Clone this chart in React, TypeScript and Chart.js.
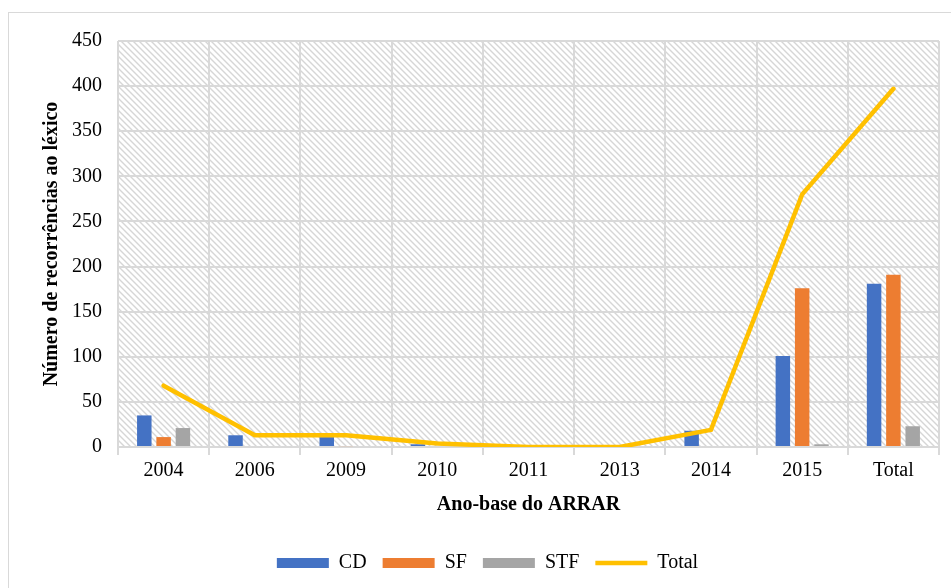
import React, { useEffect, useRef } from "react";
import { Chart, registerables } from "chart.js";

Chart.register(...registerables);

const categories = ["2004", "2006", "2009", "2010", "2011", "2013", "2014", "2015", "Total"];
const cdValues = [35, 13, 11, 3, 0, 0, 18, 101, 181];
const sfValues = [11, 0, 1, 0, 0, 0, 0, 176, 191];
const stfValues = [21, 0, 0, 0, 0, 0, 0, 3, 23];
const totalValues = [68, 13, 13, 4, 0, 0, 19, 280, 397];
const yTicks = [0, 50, 100, 150, 200, 250, 300, 350, 400, 450];

const FONT = "'Liberation Serif', 'Times New Roman', serif";

function makePattern(): CanvasPattern | string {
  const c = document.createElement("canvas");
  const s = 6;
  c.width = s;
  c.height = s;
  const g = c.getContext("2d");
  if (!g) return "#fff";
  g.fillStyle = "#ffffff";
  g.fillRect(0, 0, s, s);
  g.strokeStyle = "#d6d6d6";
  g.lineWidth = 1.4;
  g.beginPath();
  g.moveTo(-1, -1);
  g.lineTo(s + 1, s + 1);
  g.moveTo(-1, s - 1);
  g.lineTo(1, s + 1);
  g.moveTo(s - 1, -1);
  g.lineTo(s + 1, 1);
  g.stroke();
  const p = g.createPattern(c, "repeat");
  return p || "#fff";
}

export default function App() {
  const ref = useRef<HTMLCanvasElement | null>(null);
  useEffect(() => {
    if (!ref.current) return;
    const pattern = makePattern();
    const bgPlugin = {
      id: "hatch",
      beforeDraw(chart: any) {
        const { ctx, chartArea } = chart;
        if (!chartArea) return;
        ctx.save();
        ctx.fillStyle = pattern;
        ctx.fillRect(chartArea.left, chartArea.top, chartArea.right - chartArea.left, chartArea.bottom - chartArea.top);
        ctx.restore();
      },
    };
    const chart = new Chart(ref.current, {
      type: "bar",
      data: {
        labels: categories,
        datasets: [
          {
            type: "line",
            label: "Total",
            data: totalValues,
            borderColor: "#FFC000",
            backgroundColor: "#FFC000",
            borderWidth: 4.5,
            pointRadius: 0,
            pointStyle: "line",
            borderCapStyle: "round",
            tension: 0,
            order: 0,
          } as any,
          {
            label: "CD",
            data: cdValues,
            backgroundColor: "#4472C4",
            pointStyle: "rect",
            order: 1,
          },
          {
            label: "SF",
            data: sfValues,
            backgroundColor: "#ED7D31",
            pointStyle: "rect",
            order: 1,
          },
          {
            label: "STF",
            data: stfValues,
            backgroundColor: "#A5A5A5",
            pointStyle: "rect",
            order: 1,
          },
        ],
      },
      options: {
        animation: false,
        responsive: false,
        maintainAspectRatio: false,
        datasets: {
          bar: { barPercentage: 0.75, categoryPercentage: 0.635 },
        } as any,
        layout: { padding: { left: 27, right: 15, top: 21, bottom: 10 } },
        plugins: {
          tooltip: { enabled: false },
          legend: {
            position: "bottom",
            labels: {
              usePointStyle: true,
              pointStyleWidth: 52,
              boxHeight: 10,
              padding: 16,
              color: "#000",
              font: { family: FONT, size: 20 },
              sort: (a: any, b: any) => {
                const order = ["CD", "SF", "STF", "Total"];
                return order.indexOf(a.text) - order.indexOf(b.text);
              },
            },
          },
        },
        scales: {
          x: {
            offset: true,
            grid: { color: "#d9d9d9", lineWidth: 2, offset: true, drawTicks: true, tickLength: 8 },
            border: { color: "#d9d9d9", width: 2 },
            ticks: { color: "#000", font: { family: FONT, size: 20 }, padding: 4, maxRotation: 0 },
            title: {
              display: true,
              text: "Ano-base do ARRAR",
              color: "#000",
              font: { family: FONT, size: 20, weight: "bold" },
              padding: { top: 6, bottom: 20 },
            },
          },
          y: {
            min: 0,
            max: 450,
            afterFit: (s: any) => {
              s.width = 82;
            },
            afterBuildTicks: (s: any) => {
              s.ticks = yTicks.map((v) => ({ value: v }));
            },
            grid: { color: "#d9d9d9", lineWidth: 2, drawTicks: false },
            border: { display: false },
            ticks: { color: "#000", font: { family: FONT, size: 20 }, padding: 16 },
            title: {
              display: true,
              text: "Número de recorrências ao léxico",
              color: "#000",
              font: { family: FONT, size: 20, weight: "bold" },
              padding: 4,
            },
          },
        },
      },
      plugins: [bgPlugin],
    });
    return () => chart.destroy();
  }, []);
  return (
    <div
      style={{
        position: "absolute",
        left: 8,
        top: 12,
        width: 945,
        height: 580,
        border: "1px solid #d9d9d9",
        background: "#fff",
      }}
    >
      <canvas ref={ref} width={945} height={580} style={{ display: "block" }} />
    </div>
  );
}
